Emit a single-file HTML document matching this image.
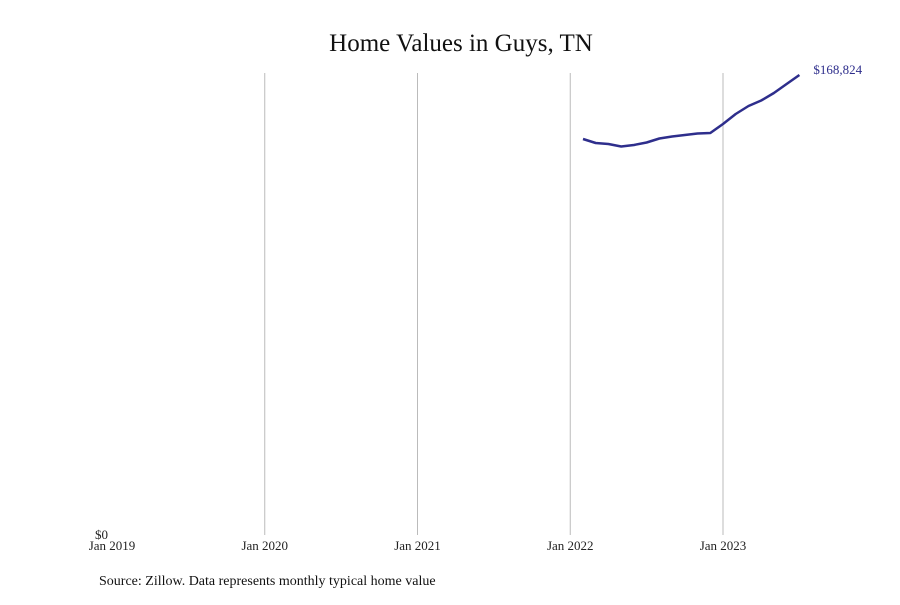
<!DOCTYPE html>
<html><head><meta charset="utf-8"><style>
body{margin:0;background:#fff;}
svg text{font-family:"Liberation Serif",serif;}
</style></head><body>
<svg id="chart" width="900" height="600">
<text x="461" y="51" text-anchor="middle" font-size="25" fill="#111">Home Values in Guys, TN</text>
<g id="grid"></g>
<g id="xticks"></g>
<text x="108" y="539" text-anchor="end" font-size="13" fill="#222">$0</text>
<path id="line" fill="none" stroke="#2e2e8c" stroke-width="2.5" stroke-linejoin="round"></path>
<text id="endlabel" font-size="13" fill="#2e2e8c"></text>
<text x="99" y="585" font-size="14" fill="#111">Source: Zillow. Data represents monthly typical home value</text>
</svg>
<script>
const tickLabels=["Jan 2019","Jan 2020","Jan 2021","Jan 2022","Jan 2023"];
const startMonthIndex=37; // months since Jan 2019 (Feb 2022)
const values=[145335,143867,143500,142582,143133,144051,145519,146253,146803,147354,147537,150840,154510,157446,159465,162217,165520,168824];
const ns="http://www.w3.org/2000/svg";
const x0=112,pxPerMonth=152.75/12;
const xs=m=>x0+m*pxPerMonth;
const yBase=535,yTop=75,maxV=168824;
const ys=v=>yBase-(v/maxV)*(yBase-yTop);
const grid=document.getElementById('grid'),xt=document.getElementById('xticks');
tickLabels.forEach((t,i)=>{
  const x=xs(i*12);
  if(i>0){const l=document.createElementNS(ns,'line');
    l.setAttribute('x1',x);l.setAttribute('x2',x);l.setAttribute('y1',73);l.setAttribute('y2',535);
    l.setAttribute('stroke','#bbb');l.setAttribute('stroke-width','1');
    
    
    grid.appendChild(l);}
  const tx=document.createElementNS(ns,'text');
  tx.setAttribute('x',x);tx.setAttribute('y',550);tx.setAttribute('text-anchor','middle');
  tx.setAttribute('font-size','13');tx.setAttribute('fill','#222');tx.textContent=t;
  
  
  xt.appendChild(tx);
});
let d='';
values.forEach((v,i)=>{d+=(i?'L':'M')+xs(startMonthIndex+i).toFixed(1)+','+ys(v).toFixed(1);});
document.getElementById('line').setAttribute('d',d);
const last=values[values.length-1];
const el=document.getElementById('endlabel');
el.setAttribute('x',xs(startMonthIndex+values.length-1)+14);
el.setAttribute('y',ys(last)-1);
el.textContent='$'+last.toLocaleString('en-US');
</script>
</body></html>
